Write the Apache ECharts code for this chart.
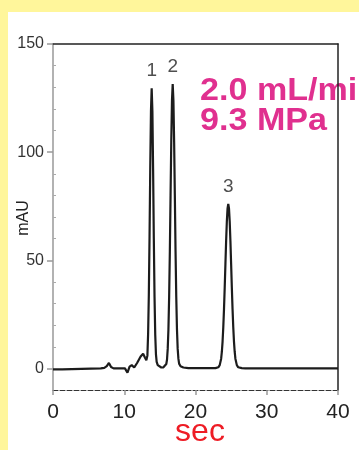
<!DOCTYPE html>
<html><head><meta charset="utf-8">
<script src="https://cdn.jsdelivr.net/npm/echarts@6/dist/echarts.min.js"></script>
<style>
html,body{margin:0;padding:0;background:#fff69b;width:359px;height:450px;overflow:hidden}
#panel{position:absolute;left:8px;top:12px;width:351px;height:438px;background:#fff}
#chart{position:absolute;left:0;top:0;width:359px;height:450px}
</style></head><body>
<div id="panel"></div><div id="chart"></div>
<script>
// Chromatogram trace (time in sec, absorbance in mAU)
const timeSec = [0, 1.3, 1.45, 6.7, 6.9, 7.2, 7.55, 7.85, 8.15, 8.5, 10.1, 10.45, 10.75, 11.05, 11.4, 11.8, 12.3, 12.65, 12.9, 13.1,
  13.25, 13.35, 13.45, 13.55, 13.65, 13.75, 13.85, 13.95, 14.05, 14.15, 14.25, 14.35, 14.45, 14.55, 14.7, 14.9, 15.2, 15.5, 15.75,
  15.9, 16.0, 16.1, 16.2, 16.3, 16.4, 16.5, 16.6, 16.7, 16.8, 16.9, 17.0, 17.1, 17.2, 17.3, 17.4, 17.5, 17.6, 17.7, 17.9, 18.3, 19.0,
  22.8, 23.2, 23.4, 23.6, 23.7, 23.8, 23.9, 24.0, 24.1, 24.2, 24.3, 24.4, 24.5, 24.6, 24.7, 24.8, 24.9, 25.0, 25.1, 25.2, 25.3, 25.4,
  25.5, 25.6, 25.8, 26.0, 26.5, 27.0, 40];
const absorbanceMAU = [-0.5, -0.5, 0, 0, 0.5, 0.2, 1, 2.5, 0.6, 0, 0, -2, 0.8, 1.5, 0.4, 2.5, 5.5, 6.8, 5, 3.7,
  6, 16, 34, 61, 93, 119, 129.5, 119, 92, 60, 33, 15.5, 6.5, 3, 1.5, 0.8, 0.4, 0.5, 1.0,
  2, 4, 9, 18, 33, 54, 80, 105, 124, 131.5, 124, 105, 80, 54, 33, 18, 9, 4.5, 2.2, 1, 0.4, 0.1,
  0.1, 0.5, 1.5, 4.5, 7.7, 12.4, 19, 27.4, 37.4, 48.3, 59, 68, 74, 76, 74, 68, 59, 48.3, 37.4, 27.4, 19, 12.4,
  7.7, 4.5, 1.5, 0.5, 0.1, 0, 0];

const peakNames = ['1', '2', '3'];
const peakTimes = [13.85, 16.8, 24.6];
const peakTops = [129.5, 131.5, 76];

const xTicks = [0, 10, 20, 30, 40];
const yMajorTicks = [0, 50, 100, 150];
const yMinorTicks = [10, 20, 30, 40, 60, 70, 80, 90, 110, 120, 130, 140];

const conditionLines = ['2.0 mL/mi', '9.3 MPa'];
const xTitle = 'sec';
const yTitle = 'mAU';

const font = '"Liberation Sans", Arial, sans-serif';
const chart = echarts.init(document.getElementById('chart'), null, {renderer: 'canvas'});

const lineData = timeSec.map((t, i) => [t, absorbanceMAU[i]]);
const peakData = peakTimes.map((t, i) => ({value: [t, peakTops[i]], name: peakNames[i]}));

chart.setOption({
  backgroundColor: 'transparent',
  animation: false,
  grid: {left: 53, right: 21, top: 44, bottom: 60, outerBoundsMode: 'none'},
  xAxis: [
    {type: 'value', min: 0, max: 40, position: 'bottom',
     axisLine: {show: true, onZero: false, lineStyle: {color: '#333', width: 1, type: [5, 2]}},
     axisTick: {show: true, customValues: xTicks, length: 5, lineStyle: {color: '#999', width: 1.5}},
     axisLabel: {show: true, customValues: xTicks, margin: 12, fontFamily: font, fontSize: 21, color: '#222'},
     splitLine: {show: false}},
    {type: 'value', min: 0, max: 40, position: 'top',
     axisLine: {show: true, onZero: false, lineStyle: {color: '#222', width: 1.5}},
     axisTick: {show: false}, axisLabel: {show: false}, splitLine: {show: false}}
  ],
  yAxis: [
    {type: 'value', min: -10, max: 150, position: 'left',
     axisLine: {show: true, onZero: false, lineStyle: {color: '#999', width: 1.5}},
     axisTick: {show: true, customValues: yMajorTicks, length: 6, lineStyle: {color: '#999', width: 1.5}},
     axisLabel: {show: true, customValues: yMajorTicks, margin: 9, fontFamily: font, fontSize: 16, color: '#333'},
     splitLine: {show: false}},
    {type: 'value', min: -10, max: 150, position: 'left',
     axisLine: {show: false, onZero: false},
     axisTick: {show: true, inside: true, customValues: yMinorTicks, length: 3, lineStyle: {color: '#aaa', width: 1}},
     axisLabel: {show: false}, splitLine: {show: false}},
    {type: 'value', min: -10, max: 150, position: 'right',
     axisLine: {show: true, onZero: false, lineStyle: {color: '#222', width: 1.5}},
     axisTick: {show: false}, axisLabel: {show: false}, splitLine: {show: false}}
  ],
  series: [
    {type: 'line', xAxisIndex: 0, yAxisIndex: 0, data: lineData, showSymbol: false, smooth: false,
     lineStyle: {color: '#1c1c1c', width: 2.2}, z: 3},
    {type: 'scatter', xAxisIndex: 0, yAxisIndex: 0, data: peakData, symbolSize: 0,
     label: {show: true, position: 'top', distance: 8, formatter: p => p.name, fontFamily: font, fontSize: 19, color: '#222'}}
  ],
  graphic: [
    {type: 'text', x: 200, y: 91, scaleX: 1.1, style: {text: conditionLines[0], font: 'bold 31px ' + font, fill: '#e0308f', verticalAlign: 'middle'}},
    {type: 'text', x: 200, y: 121, scaleX: 1.1, style: {text: conditionLines[1], font: 'bold 31px ' + font, fill: '#e0308f', verticalAlign: 'middle'}},
    {type: 'text', x: 200, y: 432, style: {text: xTitle, font: '32px ' + font, fill: '#ee1c25', align: 'center', verticalAlign: 'middle'}},
    {type: 'text', x: 24, y: 218, rotation: Math.PI / 2, style: {text: yTitle, font: '16px ' + font, fill: '#222', align: 'center', verticalAlign: 'middle'}}
  ]
});
</script>
</body></html>
